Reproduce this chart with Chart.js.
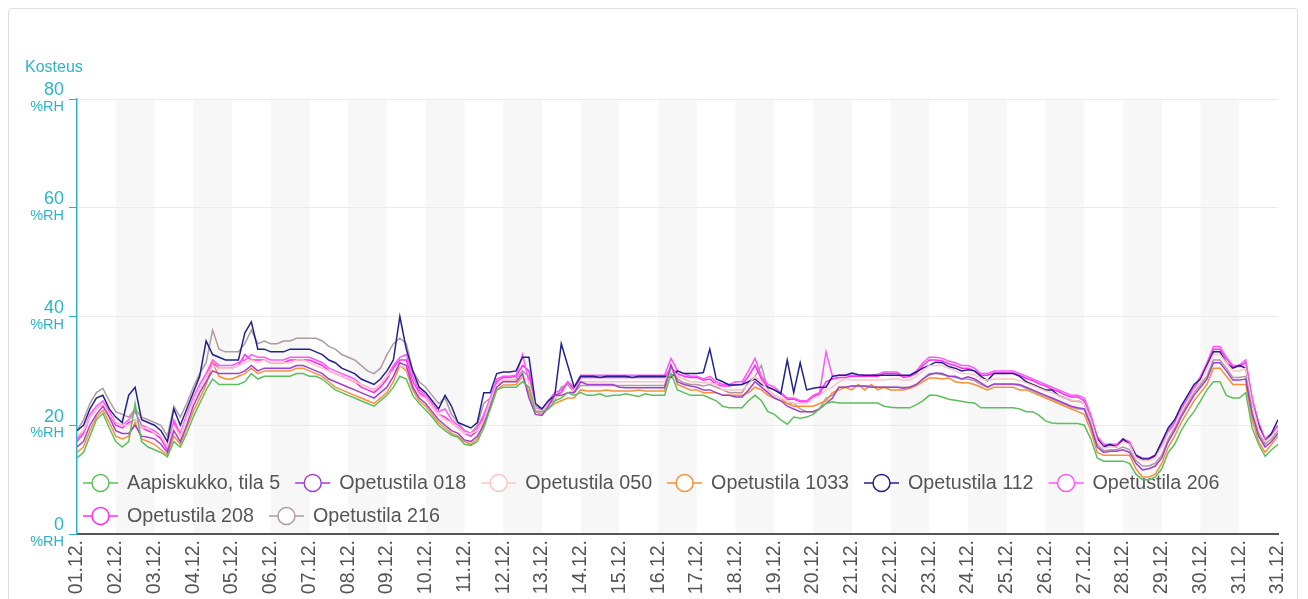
<!DOCTYPE html>
<html>
<head>
<meta charset="utf-8">
<script src="https://cdn.jsdelivr.net/npm/chart.js@4.4.1/dist/chart.umd.min.js"></script>
<style>
html,body{margin:0;padding:0;background:#fff;overflow:hidden;}
#card{position:absolute;left:8px;top:8px;width:1290px;height:700px;border:1px solid #dedede;border-radius:4px;box-sizing:border-box;}
#c{position:absolute;left:0;top:0;}
</style>
</head>
<body>
<div id="card"></div>
<canvas id="c" width="1308" height="599" style="width:1308px;height:599px"></canvas>
<script>
// ---- axis data ----
const tickLabels = ['01.12.','02.12.','03.12.','04.12.','05.12.','06.12.','07.12.','08.12.','09.12.','10.12.',
  '11.12.','12.12.','13.12.','14.12.','15.12.','16.12.','17.12.','18.12.','19.12.','20.12.',
  '21.12.','22.12.','23.12.','24.12.','25.12.','26.12.','27.12.','28.12.','29.12.','30.12.','31.12.','31.12.'];
const tickDays = [0,1,2,3,4,5,6,7,8,9,10,11,12,13,14,15,16,17,18,19,20,21,22,23,24,25,26,27,28,29,30,31];
const shadedDays = [1,3,5,7,9,11,13,15,17,19,21,23,25,27,29];
const stepHours = 4; // one sample every 4 hours from 01.12. 00:00
const yTicks = [0,20,40,60,80];
const yUnit = '%RH';
const yTitle = 'Kosteus';

const seriesNames = ['Aapiskukko, tila 5','Opetustila 018','Opetustila 050','Opetustila 1033','Opetustila 112','Opetustila 206','Opetustila 208','Opetustila 216'];
const seriesColors = ['#5cbf5c','#a040d0','#ffc4c4','#f5913a','#22228c','#ff55ff','#ff2bef','#b09aa2'];

// ---- series values (%RH), 6 samples per day ----
const aapiskukko = [
14,15,18,21,22.2,19.5,
17,16,17,24,17,16,
15.5,15,14.2,17,16,18.5,
21.5,24,26.5,28.5,27.5,27.5,
27.5,27.5,28,29.5,28.5,29,
29,29,29,29,29.5,29.5,
29,29,28.5,27.5,26.5,26,
25.5,25,24.5,24,23.5,24.5,
25.5,27,29,28.5,25.5,24,
22.8,21.5,20,19,18.2,17.8,
16.5,16.3,17,19.5,23,26.5,
27,27,27,28,27,22.5,
22.5,23,24.5,25,26,25.5,
26,25.5,25.5,25.8,25.3,25.5,
25.5,25.8,25.5,25.3,25.8,25.5,
25.5,25.5,29.5,26.5,26,25.5,
25.5,25.5,25,24.5,23.5,23.2,
23.2,23.2,24.5,25.5,24.5,22.5,
22,21,20.2,21.5,21.3,21.5,
22,23,24,24.3,24.1,24.1,
24.1,24.1,24.1,24.1,24.1,23.5,
23.3,23.2,23.2,23.2,23.8,24.5,
25.5,25.5,25.2,24.8,24.6,24.4,
24.2,24.1,23.2,23.2,23.2,23.2,
23.2,23.2,23,22.5,22.5,21.8,
20.8,20.4,20.3,20.3,20.3,20.3,
20,17.5,14,13.4,13.4,13.4,
13.4,13,11,10,10,10.5,
12,15,16.5,19,21,22.5,
24.5,26.5,28,28,25.5,25,
25,26,19.5,16.5,14.3,15.5,
16.5];
const opetustila018 = [
16,17,20,22,23.5,21.5,
19,18.5,18.5,20,18,17.8,
17.5,16.5,15,19,17,20,
23.5,26,28,30,29.5,29.5,
29.5,29.5,30,31,30,30.5,
30.5,30.5,30.5,30.5,31,31,
30.5,30,29.5,28.5,28,27.5,
27,26.5,26,25.5,25,26,
27,29,31.5,31,27,25,
24,22.5,21,20,19,18.5,
17.3,17,18,20,23.5,27,
28,28,28,29.5,25,22,
21.8,23.5,25.5,25.5,26,26,
28,27.5,27.5,27.5,27.5,27.5,
27,26.9,26.9,26.9,26.9,26.9,
26.9,26.9,31,28,27.5,27.2,
27,26.5,26.5,26,25.5,25.5,
25.2,25.2,26.5,28,27,26,
25,24.5,23.5,23,22.5,22.5,
22.5,23,24,25,27,27,
27.2,27.2,27.2,27,27,27,
27,27,26.8,27,27.5,28.5,
29.3,29.6,29.5,29,29,28.5,
28.9,28.5,27.8,27,27.6,27.6,
27.6,27.6,27.5,27,26.5,26,
25.5,25,24.5,24,23.5,23.2,
23,20,16,15,15.2,15.2,
15.5,15,13,11.8,12,12.5,
14,17,19,21.5,23.5,25.5,
27,28.5,31.5,31.5,30,28.3,
28.3,28.5,22,18,16,17,
18.5];
const opetustila050 = [
18,19,21.5,23,24,22,
20.5,20,20,21,19.5,19.5,
18.5,18,16,20,18,21.5,
24.5,27,29,31,30.5,30.5,
30.5,31,31.5,32,31.5,32,
31.5,31.5,31.5,31.5,32,32,
31.5,31,30.5,30,29.5,29,
28.5,28,27.5,27,26.5,27.5,
29,30,31,30.5,27.5,25.5,
25,23.5,22,21,20.5,19.5,
18.5,18.5,19,21,24.5,27.5,
28.3,28.3,28.3,29,28,23,
22.5,24,25,25.5,26,26.5,
28,28,28,28,28,28,
28,28,28,28,28,28,
28,28,30.5,29,28.5,28,
28,27.8,27.8,27.5,26.5,26.5,
26.5,26.5,27.5,29,28,26.5,
25.5,25,24.5,24,24,24,
25,25.5,26.5,27,28,28.5,
28.3,28.3,28.3,28.3,28.3,28.3,
28.5,28.5,28.3,28.3,29,30,
31,31,31,30.5,30,29.5,
29.5,29.3,28.5,28.3,28.5,28.5,
28.5,28.5,28.2,27.8,27.3,26.8,
26.3,26,25.5,25,24.5,24.5,
24,21,17.2,15.8,16,16,
17,16.5,14,13.5,13.5,14,
16,18.5,20,22.5,24.5,26.5,
28,30.5,33,33,31.5,30,
30,30.5,24,19.5,17,18,
19.5];
const opetustila1033 = [
15,16,19,21.5,22.8,20.5,
18,17.5,18,20.5,17.5,17,
16.5,15.5,14.5,18,16.5,19.5,
22.5,25,27.5,31.5,29,28.5,
28.5,29,29.5,30.5,29.5,30,
30,30,30,30,30.5,30.5,
30,29.5,29,28,27,26.5,
26,25.5,25,24.5,24,25,
26,28,31,30,26.5,24.5,
23.5,22,20.5,19.5,18.5,18,
17,16.5,17.5,20.5,23,26.5,
27.4,27.4,27.5,29,26,22.5,
22,23,24,24.5,25,25,
26.5,26.3,26.3,26.3,26.5,26.3,
26.3,26.3,26.3,26.5,26.3,26.3,
26.3,26.3,31,27.5,27,26.5,
26.5,26,26,26,25.5,25.5,
25.5,25.5,26,27,26.5,25.5,
25,24.5,24,23.5,23.5,23.5,
23.5,24,24.5,26,26.5,27,
26.5,27.5,26.5,27.5,26.5,27,
26.5,26.5,26.5,26.8,27.3,28,
28.7,28.7,28.5,28.7,28,27.8,
27.8,27.5,27,26.5,27,27,
27,27,26.5,26.5,26,25.5,
25,24.5,24,23.5,23,22.5,
22,19,15,14.5,14.5,14.5,
14.5,14.5,12,10.5,10.5,11,
13,16,18,20.5,22.5,24.5,
26,27.5,30.5,30.5,29,27.5,
27.5,27.5,21,17,15,16.5,
18];
const opetustila112 = [
19,20,23,25,25.5,23,
21.5,20.5,25.5,27,21,20.5,
20,19,17,23,20,23,
26,29,35.5,33,32.5,32,
32,32,37,39,34,34,
33.5,33.5,33.5,34,34,34,
34,33.5,33,32,31.5,30.5,
30,29.5,28.5,28,27.5,28.5,
30,32,40,34,30,27,
26,24.5,23,25.5,23.5,20.5,
20,19.5,20.5,26,26,29.5,
29.8,29.8,30,32.5,32.5,24,
23,24.5,25.5,35,31,27,
29,29,29,28.8,29,29,
29,29,28.8,29,29,29,
29,29,28.8,30,29.5,29.5,
29.5,29.7,34,28.5,28,27.4,
27.4,27.5,28,28.5,27.5,27,
26.5,25.8,32,26,31.5,26.5,
26.8,27,27,29,29.2,29.2,
29.6,29.3,29.2,29.2,29.2,29.2,
29.2,29.2,29.2,29.2,29.8,30.5,
31,31.6,31.5,30.8,30.5,30,
30.2,30,29,28.2,29.5,29.5,
29.5,29.5,29,28,27.5,27,
26.5,26.5,25.5,25,24.5,24.5,
24,21,17.5,16,16.5,16,
17.5,16.5,14.5,13.8,13.8,14.5,
17,19.5,21,23.5,25.5,27.5,
28.5,31,33.5,33.5,31.5,30.5,
31,30.5,24,20,17,18.5,
21];
const opetustila206 = [
17.5,19,22,23.5,24.5,22.5,
20.5,20,21,22.5,20,19.5,
19,18,16,21,18.5,22,
25,27.5,29.5,32,31,31,
31,31.5,32,33,32.5,32.5,
32,32,32,32.5,32.5,32.5,
32.5,32,31.5,30.5,30,29.5,
29,28.5,27.5,27,26.5,27.5,
29,31,32.5,33,29,26.5,
25.5,24,22.5,23,21,20,
19,18.5,19.5,22,25,28.5,
29,29,29.2,33,28,23,
23,24.5,26,26.5,28,27,
29.2,29.2,29.2,29.2,29.2,29.2,
29.2,29.2,29.2,29.2,29.2,29.2,
29.2,29.2,32.3,30,29.5,29,
29,28.5,29,28,27.5,27.5,
28,28,30,32.3,29,27.5,
27,26,25,25,24.5,24.5,
25.5,26,33.5,29,29.2,29.2,
29.2,29.2,29.2,29.2,29.4,29.8,
29.8,29.8,29,29.2,30,31.5,
32.5,32.5,32.3,31.8,31.5,31,
31,30.5,29.5,29.5,30,30,
30,30,29.5,29,28.5,28,
27.5,27,26.5,26,25.5,25.5,
25,22,18,16.5,16.5,16.5,
17.5,17,14.5,14,14,14.5,
16.5,19,20.5,23,25,27,
29,31.5,34.5,34.5,32.5,31,
31,32,25,20.5,17.5,18.5,
20];
const opetustila208 = [
17,18.5,21.5,23,24,22,
20,19.5,20.5,21,19.5,19,
18.5,17.5,15.5,20.5,18,21.5,
24.5,27,29,31.5,30.5,30.5,
30.5,31,33,32,32,32,
31.5,31.5,31.5,32,32,32,
32,31.5,31,30,29.5,29,
28.5,28,27,26.5,26,27,
28.5,30.5,32,32,28,26,
25,23.5,22,21.5,20.5,19.5,
18.5,18,19,21.5,24.5,28,
28.8,28.8,29,31,30,23,
22.5,24,25.5,26,28,26.5,
28.8,28.8,28.8,28.8,28.8,28.8,
28.8,28.8,28.8,28.8,28.8,28.8,
28.8,28.8,30.5,29.5,29,28.8,
28.8,28.3,28.5,27.5,27.2,27.2,
27.5,27.5,29,31,28.5,27,
26.5,25.8,24.8,24.8,24.3,24.3,
25.2,25.8,28,28.5,28.8,28.8,
29,29,29,29,29,29.5,
29.5,29.5,28.8,29,29.6,31,
32,32,31.8,31.3,31,30.5,
30.5,30,29.2,29.2,29.6,29.6,
29.6,29.6,29.2,28.6,28.2,27.6,
27.2,26.6,26.2,25.6,25.2,25.2,
24.5,21.5,17.8,16.2,16.3,16.3,
17.2,16.8,14.3,13.8,13.8,14.3,
16.3,18.8,20.3,22.8,24.8,26.8,
28.8,31.3,34,34,32.2,30.8,
30.8,31.5,24.8,20.3,17.3,18.3,
19.8];
const opetustila216 = [
19,21,24,26,26.8,24.5,
22.5,22,21.5,23,21.5,21,
20.5,20,18,23.5,21.5,24,
27,29.5,31.5,37.5,34,33.5,
33.5,33.5,35,37.5,35,35.5,
35,35,35.5,35.5,36,36,
36,36,35.5,34.5,34,33,
32.5,32,31,30,29.5,30.5,
33,35,36,35,30,28,
27,25.5,24,25,22,20.5,
19,18.5,20,24,25,27.5,
28.2,28.2,28.5,30,29,23.5,
23,24,24.5,27,27.5,26,
27.3,27.3,27.3,27.3,27.3,27.3,
27.3,27.3,27.3,27.3,27.3,27.3,
27.3,27.3,31,28.5,27.8,27.5,
27.5,27.2,27.5,27,26.5,26,
26,26,28,29,31,26.5,
25.5,25,24,24,23,22.5,
22.5,23,25,25.5,27,27,
27.2,27.2,27.2,27.2,27,27,
27,27,27,27,27.5,28.5,
29.5,29.5,29.3,29,28.8,28.5,
28.5,28.2,27.5,27,27.5,27.5,
27.5,27.5,27.3,26.8,26.3,25.8,
25.3,24.8,24.3,23.8,23.3,23,
23,20,16.5,15.3,15.5,15.5,
16,15.5,13.5,12.5,12.5,13,
14.5,17.5,19.5,22,24,26,
27.5,29,32,32,30.5,28.8,
28.8,29,22.5,18.5,16.5,17.5,
19];

const seriesValues = [aapiskukko, opetustila018, opetustila050, opetustila1033, opetustila112, opetustila206, opetustila208, opetustila216];

const TEAL = '#2db4c6';
const FONT = "'Liberation Sans', Arial, sans-serif";
Chart.defaults.font.family = FONT;

const datasets = seriesNames.map((name, k) => ({
  label: name,
  data: seriesValues[k].map((v, i) => ({ x: i * stepHours / 24, y: v })),
  borderColor: seriesColors[k],
  backgroundColor: seriesColors[k],
  borderWidth: 1.5,
  pointRadius: 0,
  tension: 0,
  fill: false
}));

const stripes = {
  id: 'stripes',
  beforeDraw(chart) {
    const { ctx, chartArea: { top, bottom }, scales: { x } } = chart;
    ctx.save();
    ctx.fillStyle = '#f7f7f7';
    shadedDays.forEach(d => {
      const x0 = x.getPixelForValue(d), x1 = x.getPixelForValue(d + 1);
      ctx.fillRect(x0, top, x1 - x0, bottom - top);
    });
    ctx.restore();
  }
};

const legendInArea = {
  id: 'legendInArea',
  beforeDatasetsDraw(chart) {
    const { ctx, chartArea } = chart;
    const startX = chartArea.left + 6;
    const rows = [chartArea.bottom - 51, chartArea.bottom - 18];
    ctx.save();
    ctx.font = '19.7px ' + FONT;
    ctx.textBaseline = 'middle';
    ctx.textAlign = 'left';
    let x = startX, row = 0;
    seriesNames.forEach((name, k) => {
      const tw = ctx.measureText(name).width;
      const w = 44 + tw;
      if (x + w > chartArea.right && x > startX) { row++; x = startX; }
      const y = rows[row];
      ctx.strokeStyle = seriesColors[k];
      ctx.lineWidth = 1.5;
      ctx.beginPath(); ctx.moveTo(x, y); ctx.lineTo(x + 35, y); ctx.stroke();
      ctx.beginPath(); ctx.arc(x + 17.5, y, 8.5, 0, Math.PI * 2);
      ctx.fillStyle = '#fff'; ctx.fill(); ctx.stroke();
      ctx.fillStyle = '#555';
      ctx.fillText(name, x + 44, y + 1);
      x += w + 15;
    });
    ctx.restore();
  }
};

const axisExtras = {
  id: 'axisExtras',
  afterDraw(chart) {
    const { ctx, chartArea, scales: { y } } = chart;
    ctx.save();
    ctx.fillStyle = TEAL;
    ctx.font = '14.5px ' + FONT;
    ctx.textAlign = 'right';
    ctx.textBaseline = 'middle';
    yTicks.forEach(v => {
      ctx.fillText(yUnit, chartArea.left - 13, y.getPixelForValue(v) + 8);
    });
    ctx.font = '16px ' + FONT;
    ctx.textAlign = 'left';
    ctx.fillText(yTitle, chartArea.left - 52, chartArea.top - 31);
    ctx.restore();
  }
};

new Chart(document.getElementById('c'), {
  type: 'line',
  data: { datasets },
  plugins: [stripes, legendInArea, axisExtras],
  options: {
    responsive: false,
    animation: false,
    layout: { padding: { top: 99, right: 30, left: 0, bottom: 0 } },
    plugins: { legend: { display: false }, tooltip: { enabled: false }, title: { display: false } },
    scales: {
      x: {
        type: 'linear', min: 0, max: 31,
        afterBuildTicks: s => { s.ticks = tickDays.map(v => ({ value: v })); },
        afterFit: s => { s.height = 65; },
        grid: { display: false, drawTicks: true, tickLength: 6 },
        border: { display: true, color: '#555', width: 2 },
        ticks: {
          autoSkip: false, maxRotation: 90, minRotation: 90, padding: 0,
          color: '#555', font: { size: 19.5 },
          callback: (v, i) => tickLabels[i]
        }
      },
      y: {
        min: 0, max: 80,
        afterBuildTicks: s => { s.ticks = yTicks.map(v => ({ value: v })); },
        afterFit: s => { s.width = 77; },
        grid: { color: '#ebebeb', tickColor: TEAL, tickLength: 8, drawTicks: true },
        border: { color: TEAL, width: 1.5 },
        ticks: {
          color: TEAL, padding: 5, font: { size: 18, lineHeight: 0.95 },
          callback: v => [String(v), ' ']
        }
      }
    }
  }
});
</script>
</body>
</html>
